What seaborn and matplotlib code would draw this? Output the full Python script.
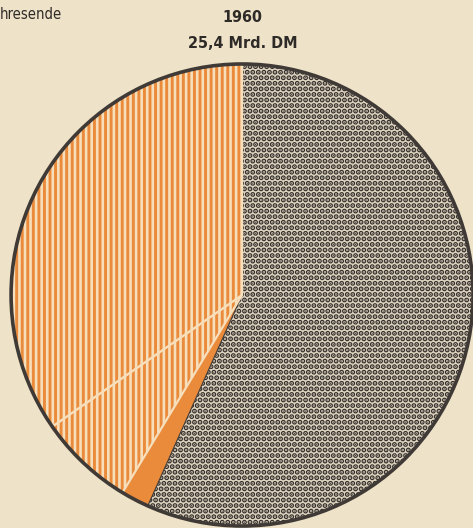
import matplotlib
matplotlib.use("Agg")
import matplotlib.pyplot as plt
import matplotlib.patches as mpatches
from matplotlib import font_manager
import seaborn as sns

# --- Daten: Anteile am Jahresende 1960 (Mrd. DM, aus dem Bild geschaetzt) ---
jahr = "1960"
summe_text = "25,4 Mrd. DM"
teile = ["Punktraster", "Orange voll", "Streifen klein", "Streifen gross"]
werte = [14.4, 0.5, 1.7, 8.8]

sns.set_theme(style="white")
namen = {f.name for f in font_manager.fontManager.ttflist}
schrift = "Liberation Sans Narrow" if "Liberation Sans Narrow" in namen else "DejaVu Sans"
plt.rcParams["font.family"] = [schrift, "DejaVu Sans"]
plt.rcParams["hatch.linewidth"] = 2.0

papier = "#eee2c8"
orange = "#ea8a3b"
creme = "#f7dfbb"
dunkel = "#3f3a36"

fig = plt.figure(figsize=(4.73, 5.28), dpi=100, facecolor=papier)
ax = fig.add_axes([0.0233, 0.0038, 0.977, 0.875])
ax.set_facecolor(papier)

wedges, _ = ax.pie(werte, startangle=90, counterclock=False, radius=1,
                   wedgeprops=dict(clip_on=False))

# Muster und Farben je Segment
stil = [
    dict(facecolor="#ddd3bf", edgecolor="#332e2b", hatch="...", linewidth=0),
    dict(facecolor=orange, edgecolor=dunkel, hatch=None, linewidth=0.8),
    dict(facecolor=orange, edgecolor=creme, hatch="|||", linewidth=1.6),
    dict(facecolor=orange, edgecolor=creme, hatch="|||", linewidth=1.6),
]
for w, s in zip(wedges, stil):
    w.set_facecolor(s["facecolor"])
    w.set_edgecolor(s["edgecolor"])
    w.set_linewidth(s["linewidth"])
    if s["hatch"]:
        w.set_hatch(s["hatch"])
        if hasattr(w, "set_hatch_linewidth"):
            w.set_hatch_linewidth(2.6 if s["hatch"] == "..." else 1.9)

# aeusserer Rand
ax.add_patch(mpatches.Circle((0, 0), 1, fill=False, edgecolor=dunkel,
                             linewidth=2.6, clip_on=False, zorder=5))

ax.set_xlim(-1, 1)
ax.set_ylim(-1, 1)
ax.set_aspect("equal")
ax.axis("off")

fig.text(0.0, 0.986, "hresende", ha="left", va="top", fontsize=10.5,
         color="#2e2a27", fontstretch="condensed")
fig.text(0.513, 0.966, jahr, ha="center", va="center", fontsize=11.5,
         fontweight="bold", color="#2e2a27", fontstretch="condensed")
fig.text(0.513, 0.917, summe_text, ha="center", va="center", fontsize=11.5,
         fontweight="bold", color="#2e2a27", fontstretch="condensed")

plt.savefig("out.png", dpi=100, facecolor=papier)
